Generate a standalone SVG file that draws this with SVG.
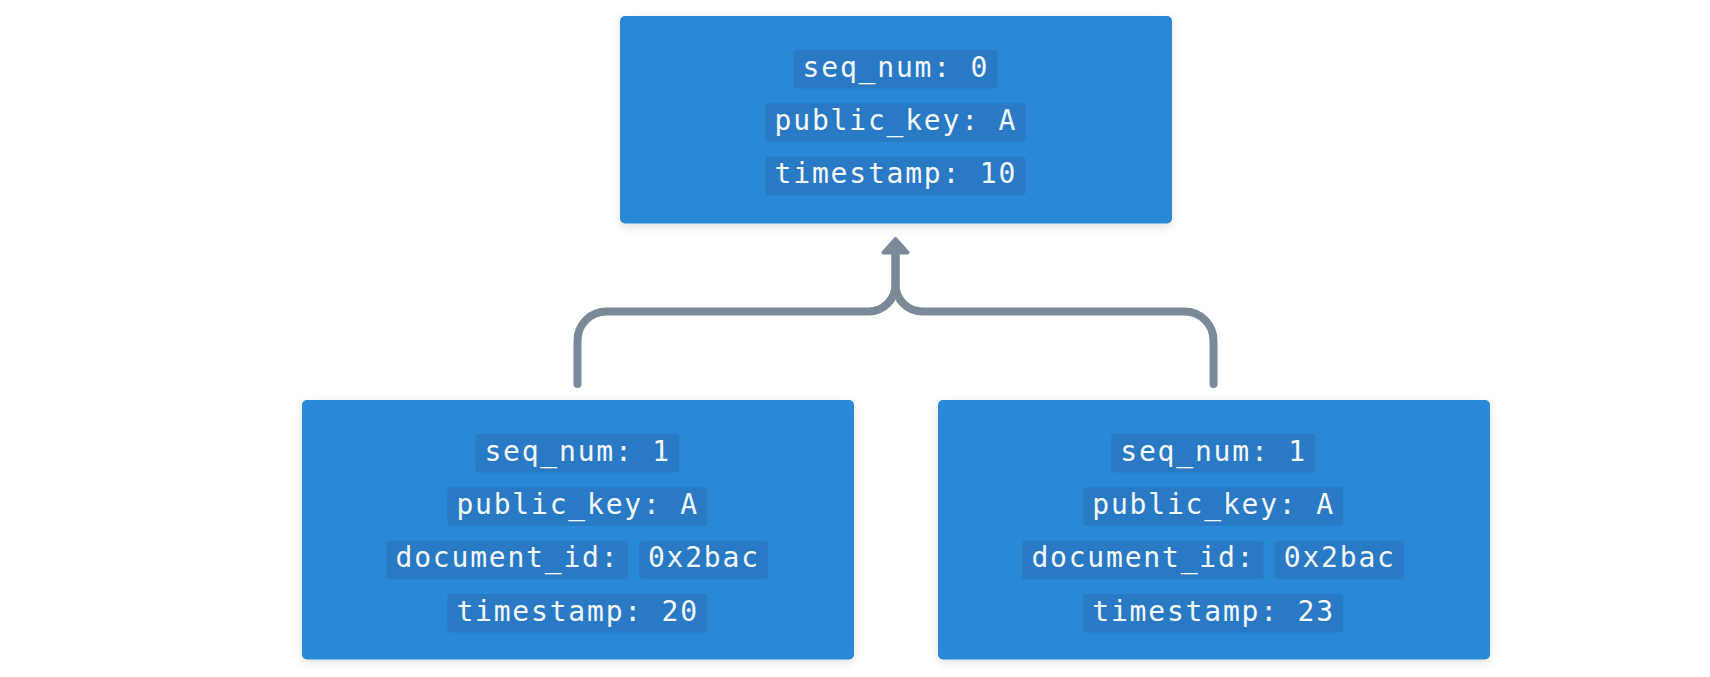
<svg xmlns="http://www.w3.org/2000/svg" width="1710" height="677" viewBox="0 0 1710 677">
<defs>
<filter id="sh" x="-10%" y="-20%" width="120%" height="140%">
<feDropShadow dx="0" dy="3" stdDeviation="5" flood-color="#000" flood-opacity="0.13"/>
</filter>
<style>
.box{fill:#2c88d8;filter:url(#sh)}
.chip{fill:#2979c4}
.t{font-family:"DejaVu Sans Mono","Liberation Mono",monospace;font-size:28px;letter-spacing:1.8px;fill:#f6f9fc}
.conn{fill:none;stroke:#7b8a99;stroke-width:8;stroke-linecap:round;stroke-linejoin:round}
.head{fill:#7b8a99;stroke:#7b8a99;stroke-width:4;stroke-linejoin:round}
</style>
</defs>
<rect width="1710" height="677" fill="#ffffff"/>
<g id="connectors">
<path class="conn" d="M577.5,384 V340.5 A29,29 0 0 1 606.5,311.5 H868.5 A27,27 0 0 0 895.5,284.5 V252"/>
<path class="conn" d="M1213.5,384 V340.5 A29,29 0 0 0 1184.5,311.5 H922.5 A27,27 0 0 1 895.5,284.5 V252"/>
<polygon class="head" points="895.5,239 883.5,252.5 907.5,252.5"/>
</g>
<g id="node-top">
<rect class="box" x="620" y="16" width="552" height="207.5" rx="5"/>
<rect class="chip" x="793.6" y="50" width="203.8" height="38.5" rx="3"/>
<text class="t" x="802.6" y="76.7">seq_num: 0</text>
<rect class="chip" x="765.6" y="103.3" width="259.8" height="38.5" rx="3"/>
<text class="t" x="774.6" y="130">public_key: A</text>
<rect class="chip" x="765.6" y="156.7" width="259.8" height="38.5" rx="3"/>
<text class="t" x="774.6" y="183.4">timestamp: 10</text>
</g>
<g id="node-left">
<rect class="box" x="302" y="400" width="552" height="259.5" rx="5"/>
<rect class="chip" x="475.4" y="434" width="203.8" height="38.5" rx="3"/>
<text class="t" x="484.4" y="460.5">seq_num: 1</text>
<rect class="chip" x="447.4" y="487.3" width="259.8" height="38.5" rx="3"/>
<text class="t" x="456.4" y="513.8">public_key: A</text>
<rect class="chip" x="386.5" y="540.7" width="241.1" height="38.5" rx="3"/>
<text class="t" x="395.5" y="567.2">document_id:</text>
<rect class="chip" x="638.9" y="540.7" width="129.2" height="38.5" rx="3"/>
<text class="t" x="647.9" y="567.2">0x2bac</text>
<rect class="chip" x="447.4" y="594" width="259.8" height="38.5" rx="3"/>
<text class="t" x="456.4" y="620.5">timestamp: 20</text>
</g>
<g id="node-right">
<rect class="box" x="938" y="400" width="552" height="259.5" rx="5"/>
<rect class="chip" x="1111.3" y="434" width="203.8" height="38.5" rx="3"/>
<text class="t" x="1120.3" y="460.5">seq_num: 1</text>
<rect class="chip" x="1083.3" y="487.3" width="259.8" height="38.5" rx="3"/>
<text class="t" x="1092.3" y="513.8">public_key: A</text>
<rect class="chip" x="1022.4" y="540.7" width="241.1" height="38.5" rx="3"/>
<text class="t" x="1031.4" y="567.2">document_id:</text>
<rect class="chip" x="1274.8" y="540.7" width="129.2" height="38.5" rx="3"/>
<text class="t" x="1283.8" y="567.2">0x2bac</text>
<rect class="chip" x="1083.3" y="594" width="259.8" height="38.5" rx="3"/>
<text class="t" x="1092.3" y="620.5">timestamp: 23</text>
</g>
</svg>
